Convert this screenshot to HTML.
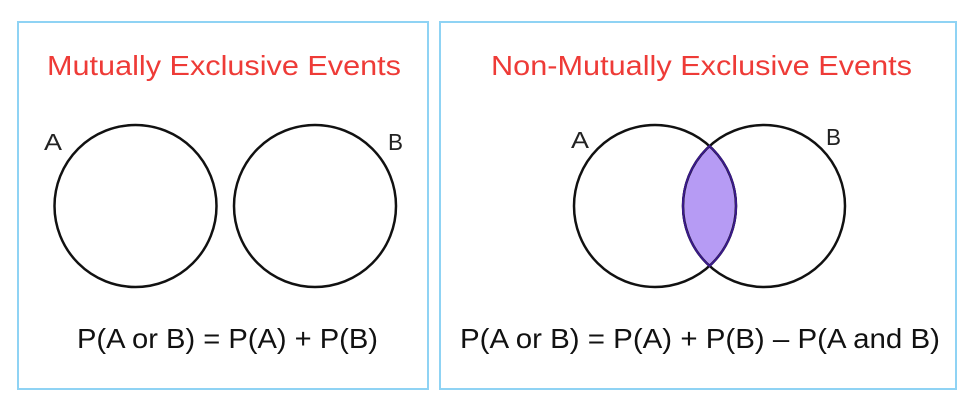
<!DOCTYPE html>
<html><head><style>
html,body{margin:0;padding:0;background:#fff;width:978px;height:410px;overflow:hidden}
</style></head><body>
<svg width="978" height="410" xmlns="http://www.w3.org/2000/svg" font-family="'Liberation Sans', sans-serif">
<rect x="18" y="22" width="410" height="367" fill="none" stroke="#8fd3f4" stroke-width="2"/>
<rect x="440" y="22" width="516" height="367" fill="none" stroke="#8fd3f4" stroke-width="2"/>
<text x="47" y="75" font-size="28" fill="#ee3b37" textLength="354" lengthAdjust="spacingAndGlyphs">Mutually Exclusive Events</text>
<text x="491" y="75" font-size="28" fill="#ee3b37" textLength="421" lengthAdjust="spacingAndGlyphs">Non-Mutually Exclusive Events</text>
<circle cx="135.5" cy="206" r="81" fill="none" stroke="#111" stroke-width="2.5"/>
<circle cx="315" cy="206" r="81" fill="none" stroke="#111" stroke-width="2.5"/>
<text x="44" y="150" font-size="23" fill="#222" textLength="18" lengthAdjust="spacingAndGlyphs">A</text>
<text x="388" y="150" font-size="23" fill="#222" textLength="15" lengthAdjust="spacingAndGlyphs">B</text>
<text x="77" y="348" font-size="28" fill="#111" textLength="301" lengthAdjust="spacingAndGlyphs">P(A or B) = P(A) + P(B)</text>
<path d="M709.5 146 A81 81 0 0 1 709.5 266 A81 81 0 0 1 709.5 146 Z" fill="#b69bf4" stroke="#3a1a8a" stroke-width="2"/>
<circle cx="655" cy="206" r="81" fill="none" stroke="#111" stroke-width="2.5"/>
<circle cx="764" cy="206" r="81" fill="none" stroke="#111" stroke-width="2.5"/>
<path d="M709.5 146 A81 81 0 0 1 709.5 266 A81 81 0 0 1 709.5 146 Z" fill="none" stroke="#3a1a8a" stroke-width="2"/>
<text x="571" y="148" font-size="23" fill="#222" textLength="18" lengthAdjust="spacingAndGlyphs">A</text>
<text x="826" y="145" font-size="23" fill="#222" textLength="15" lengthAdjust="spacingAndGlyphs">B</text>
<text x="460" y="348" font-size="28" fill="#111" textLength="480" lengthAdjust="spacingAndGlyphs">P(A or B) = P(A) + P(B) – P(A and B)</text>
</svg>
</body></html>
